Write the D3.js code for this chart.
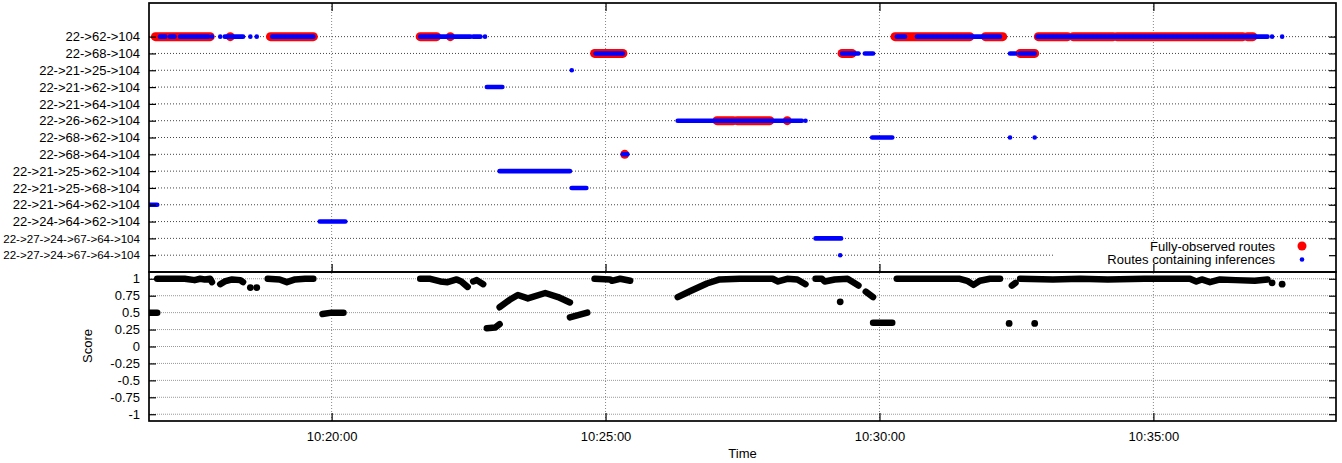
<!DOCTYPE html>
<html><head><meta charset="utf-8">
<script src="https://cdn.jsdelivr.net/npm/d3@7"></script>
<style>body{margin:0;background:#fff}svg{display:block;font-family:"Liberation Sans",Arial,sans-serif}</style>
</head><body><svg id="c" width="1342" height="463"></svg>
<script>
// ---------- data ----------
const routes = ["22->62->104","22->68->104","22->21->25->104","22->21->62->104","22->21->64->104",
  "22->26->62->104","22->68->62->104","22->68->64->104","22->21->25->62->104","22->21->25->68->104",
  "22->21->64->62->104","22->24->64->62->104","22->27->24->67->64->104","22->27->24->67->64->104"];
const timeDomain = ["10:16:40","10:38:20"];
const timeTicks = ["10:20:00","10:25:00","10:30:00","10:35:00"];
const scoreDomain = [-1.1, 1.1];
const scoreTicks = [1,0.75,0.5,0.25,0,-0.25,-0.5,-0.75,-1];
const legendLabels = ["Fully-observed routes","Routes containing inferences"];

// [route index, start, end] (start == end : single observation)
const observedRuns = [
 [0,"10:16:47","10:17:47"],[0,"10:18:09","10:18:09"],[0,"10:18:53","10:19:40"],
 [0,"10:21:37","10:21:55"],[0,"10:22:10","10:22:10"],
 [0,"10:30:17","10:31:39"],[0,"10:31:56","10:32:15"],[0,"10:32:54","10:33:26"],
 [0,"10:33:32","10:34:16"],[0,"10:34:20","10:36:38"],[0,"10:36:43","10:36:49"],
 [1,"10:24:48","10:25:19"],[1,"10:29:19","10:29:30"],[1,"10:32:34","10:32:50"],
 [5,"10:27:02","10:27:20"],[5,"10:27:24","10:28:00"],[5,"10:28:19","10:28:19"],
 [7,"10:25:21","10:25:21"]
];
const inferenceRuns = [
 [0,"10:16:52","10:16:58"],[0,"10:17:03","10:17:08"],[0,"10:17:14","10:17:45"],[0,"10:17:49","10:17:49"],
 [0,"10:17:58","10:17:58"],[0,"10:18:03","10:18:23"],[0,"10:18:31","10:18:31"],[0,"10:18:38","10:18:38"],
 [0,"10:18:55","10:19:40"],[0,"10:21:37","10:22:32"],[0,"10:22:35","10:22:43"],[0,"10:22:48","10:22:48"],
 [0,"10:30:19","10:30:28"],[0,"10:30:41","10:32:12"],[0,"10:32:53","10:37:05"],
 [0,"10:37:10","10:37:10"],[0,"10:37:21","10:37:21"],
 [1,"10:24:49","10:25:19"],[1,"10:29:19","10:29:37"],[1,"10:29:44","10:29:53"],
 [1,"10:32:23","10:32:29"],[1,"10:32:34","10:32:50"],
 [2,"10:24:23","10:24:23"],
 [3,"10:22:50","10:23:07"],
 [5,"10:26:19","10:28:35"],[5,"10:28:39","10:28:39"],
 [6,"10:29:52","10:30:14"],[6,"10:32:23","10:32:23"],[6,"10:32:50","10:32:50"],
 [7,"10:25:19","10:25:24"],
 [8,"10:23:04","10:24:21"],
 [9,"10:24:23","10:24:39"],
 [10,"10:16:36","10:16:49"],
 [11,"10:19:47","10:20:15"],
 [12,"10:28:50","10:29:18"],
 [13,"10:29:17","10:29:17"]
];
// score traces: runs of consecutive points [time, score]
const scoreRuns = [
 [["10:16:38",0.5],["10:16:49",0.5]],
 [["10:16:49",1],["10:17:19",1],["10:17:30",0.98],["10:17:36",1],["10:17:41",0.99],["10:17:47",1],["10:17:49",0.95]],
 [["10:17:58",0.92],["10:18:03",0.96],["10:18:11",0.99],["10:18:20",0.98],["10:18:23",0.95]],
 [["10:18:50",1],["10:19:03",0.99],["10:19:11",0.95],["10:19:20",0.99],["10:19:31",1],["10:19:40",1]],
 [["10:19:50",0.48],["10:20:00",0.5],["10:20:13",0.5]],
 [["10:21:37",1],["10:21:48",1],["10:21:59",0.96],["10:22:07",0.95],["10:22:17",0.99],["10:22:22",0.96],["10:22:29",0.88]],
 [["10:22:35",0.96],["10:22:39",0.98],["10:22:46",0.92]],
 [["10:22:50",0.27],["10:22:59",0.28],["10:23:04",0.33]],
 [["10:23:04",0.58],["10:23:15",0.69],["10:23:24",0.76],["10:23:35",0.71],["10:23:54",0.79],["10:24:08",0.73],["10:24:21",0.65]],
 [["10:24:21",0.43],["10:24:40",0.5]],
 [["10:24:48",1],["10:25:05",0.99],["10:25:07",0.97],["10:25:16",1],["10:25:27",0.97]],
 [["10:26:19",0.73],["10:26:33",0.82],["10:26:51",0.93],["10:27:05",0.99],["10:27:27",1],["10:28:03",1],["10:28:09",0.96],["10:28:19",1],["10:28:30",0.99],["10:28:39",0.92]],
 [["10:28:50",1],["10:28:57",1],["10:29:00",0.96],["10:29:11",0.99],["10:29:25",1],["10:29:37",0.9]],
 [["10:29:45",0.81],["10:29:53",0.73]],
 [["10:29:53",0.35],["10:30:14",0.35]],
 [["10:30:19",1],["10:31:28",1],["10:31:36",0.97],["10:31:43",0.91],["10:31:50",0.97],["10:32:01",1],["10:32:12",1]],
 [["10:32:25",0.9],["10:32:29",0.94]],
 [["10:32:34",1],["10:33:10",0.99],["10:33:40",1],["10:34:10",0.99],["10:34:50",1],["10:35:40",1],["10:35:47",0.96],["10:35:53",0.99],["10:36:02",0.95],["10:36:13",0.99],["10:36:30",0.98],["10:36:51",0.97],["10:37:05",0.99]]
];
const scoreDots = [["10:18:31",0.87],["10:18:38",0.87],["10:29:17",0.66],["10:32:22",0.34],["10:32:50",0.34],["10:37:10",0.94],["10:37:21",0.92]];

// ---------- chart ----------
const parse = d3.timeParse("%H:%M:%S");
const L = 149, R = 1336, T1 = 3, B1 = 272, T2 = 272, B2 = 421;
const x = d3.scaleTime().domain(timeDomain.map(parse)).range([L, R]);
const yR = d3.scaleLinear().domain([-2, 14]).range([T1, B1]);
const yS = d3.scaleLinear().domain(scoreDomain).range([B2, T2]);
const svg = d3.select("#c");
const FS = "13px";

const defs = svg.append("defs");
defs.append("clipPath").attr("id","cp1").append("rect").attr("x",L).attr("y",T1).attr("width",R-L).attr("height",B1-T1);
defs.append("clipPath").attr("id","cp2").append("rect").attr("x",L).attr("y",T2).attr("width",R-L).attr("height",B2-T2);

// grids
const gridG = svg.append("g");
gridG.selectAll(".hg1").data(d3.range(routes.length)).join("line")
 .attr("x1",L).attr("x2",R).attr("y1",d=>yR(d)).attr("y2",d=>yR(d))
 .attr("stroke","#444").attr("stroke-width",1).attr("stroke-dasharray","1,2");
gridG.selectAll(".hg2").data(scoreTicks).join("line")
 .attr("x1",L).attr("x2",R).attr("y1",d=>yS(d)).attr("y2",d=>yS(d))
 .attr("stroke","#999").attr("stroke-width",1).attr("stroke-dasharray","1,1");
gridG.selectAll(".vg").data(timeTicks).join("line")
 .attr("x1",d=>x(parse(d))).attr("x2",d=>x(parse(d))).attr("y1",T1).attr("y2",B2)
 .attr("stroke","#888").attr("stroke-width",1).attr("stroke-dasharray","1,2");

// top panel marks
const topG = svg.append("g").attr("clip-path","url(#cp1)");
function drawRuns(data, color, w){
  topG.selectAll(null).data(data.filter(d=>d[1]!==d[2])).join("line")
   .attr("x1",d=>x(parse(d[1]))).attr("x2",d=>x(parse(d[2])))
   .attr("y1",d=>yR(d[0])).attr("y2",d=>yR(d[0]))
   .attr("stroke",color).attr("stroke-width",w).attr("stroke-linecap","round");
  topG.selectAll(null).data(data.filter(d=>d[1]===d[2])).join("circle")
   .attr("cx",d=>x(parse(d[1]))).attr("cy",d=>yR(d[0])).attr("r",w/2).attr("fill",color);
}
drawRuns(observedRuns, "#ff0000", 9);
drawRuns(inferenceRuns, "#0000ff", 4.6);

// bottom panel marks
const botG = svg.append("g").attr("clip-path","url(#cp2)");
const line = d3.line().x(d=>x(parse(d[0]))).y(d=>yS(d[1]));
botG.selectAll(null).data(scoreRuns).join("path").attr("d",line)
 .attr("fill","none").attr("stroke","#000").attr("stroke-width",6.5)
 .attr("stroke-linecap","round").attr("stroke-linejoin","round");
botG.selectAll(null).data(scoreDots).join("circle")
 .attr("cx",d=>x(parse(d[0]))).attr("cy",d=>yS(d[1])).attr("r",3.4).attr("fill","#000");

// legend
const lg = svg.append("g");
lg.append("rect").attr("x",1055).attr("y",241).attr("width",R-1055).attr("height",B1-241).attr("fill","#fff");
lg.selectAll("text").data(legendLabels).join("text")
 .attr("x",1275).attr("y",(d,i)=>250.5+i*13.5).attr("text-anchor","end").attr("font-size",FS).text(d=>d);
lg.append("circle").attr("cx",1302).attr("cy",246).attr("r",4.5).attr("fill","#ff0000");
lg.append("circle").attr("cx",1302).attr("cy",259.5).attr("r",2.3).attr("fill","#0000ff");

// axes
function style(sel){ sel.selectAll("text").attr("font-size",FS).attr("fill","#000").attr("font-family",null);
  sel.selectAll("line").attr("stroke","#000").attr("stroke-width",1.2); sel.select(".domain").remove(); }
const yAxisG = svg.append("g").attr("transform",`translate(${L},0)`)
 .call(d3.axisLeft(yR).tickValues(d3.range(routes.length)).tickFormat(i=>routes[i]).tickSizeInner(-7).tickSizeOuter(0).tickPadding(9)).call(style);
// shrink labels that would not fit left of the axis
yAxisG.selectAll("text").each(function(){
  const w = this.getComputedTextLength();
  if (w > L - 12) d3.select(this).attr("font-size", (13 * (L - 12) / w).toFixed(2) + "px");
});
svg.append("g").attr("transform",`translate(${R},0)`)
 .call(d3.axisRight(yR).tickValues(d3.range(routes.length)).tickFormat("").tickSizeInner(-7).tickSizeOuter(0)).call(style);
svg.append("g").attr("transform",`translate(${L},0)`)
 .call(d3.axisLeft(yS).tickValues(scoreTicks).tickFormat(d=>String(d)).tickSizeInner(-7).tickSizeOuter(0).tickPadding(9)).call(style);
svg.append("g").attr("transform",`translate(${R},0)`)
 .call(d3.axisRight(yS).tickValues(scoreTicks).tickFormat("").tickSizeInner(-7).tickSizeOuter(0)).call(style);
svg.append("g").attr("transform",`translate(0,${B2})`)
 .call(d3.axisBottom(x).tickValues(timeTicks.map(parse)).tickFormat(d3.timeFormat("%H:%M:%S")).tickSizeInner(-8).tickSizeOuter(0).tickPadding(11)).call(style);
svg.append("g").attr("transform",`translate(0,${B1})`)
 .call(d3.axisBottom(x).tickValues(timeTicks.map(parse)).tickFormat("").tickSizeInner(-8).tickSizeOuter(0)).call(style);
svg.append("g").attr("transform",`translate(0,${T1})`)
 .call(d3.axisTop(x).tickValues(timeTicks.map(parse)).tickFormat("").tickSizeInner(-8).tickSizeOuter(0)).call(style);

// frames
svg.append("rect").attr("x",L).attr("y",T1).attr("width",R-L).attr("height",B1-T1).attr("fill","none").attr("stroke","#000").attr("stroke-width",1.7);
svg.append("rect").attr("x",L).attr("y",T2).attr("width",R-L).attr("height",B2-T2).attr("fill","none").attr("stroke","#000").attr("stroke-width",1.7);

// titles
svg.append("text").attr("x",(L+R)/2).attr("y",458).attr("text-anchor","middle").attr("font-size",FS).text("Time");
svg.append("text").attr("transform","translate(92,346) rotate(-90)").attr("text-anchor","middle").attr("font-size",FS).text("Score");
</script></body></html>
